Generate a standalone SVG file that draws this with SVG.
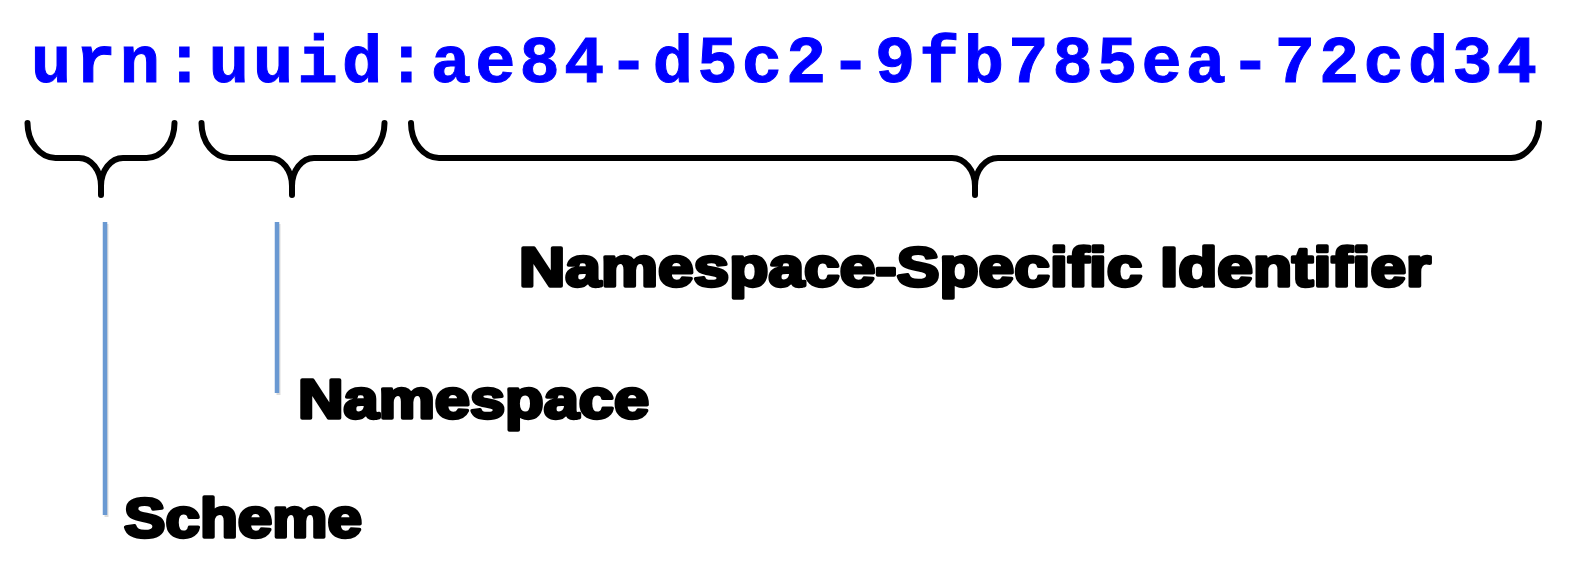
<svg xmlns="http://www.w3.org/2000/svg" width="1596" height="578" viewBox="0 0 1596 578">
  <style>
    .uri { font-family: "Liberation Mono", "Courier New", monospace; font-weight: bold; font-size: 67px; fill: #0000ff; stroke: #0000ff; stroke-width: 1px; }
    .label { font-family: "Liberation Sans", Arial, sans-serif; font-weight: bold; font-size: 55px; fill: #000; stroke: #000; stroke-width: 3.4px; stroke-linejoin: round; }
    .brace { fill: none; stroke: #000; stroke-width: 6; stroke-linecap: round; stroke-linejoin: round; }
    .leader { stroke: #6a99d2; stroke-width: 4.5; stroke-linecap: butt; }
    .shadow { stroke: #9a9a9a; stroke-opacity: 0.35; stroke-width: 4; }
  </style>
  <rect width="1596" height="578" fill="#fff"/>

  <g id="uri">
    <text class="uri" x="31" y="82" textLength="1506" lengthAdjust="spacing">urn:uuid:ae84-d5c2-9fb785ea-72cd34</text>
  </g>

  <g id="connectors">
    <g id="braces">
      <path class="brace" d="M27.5,123 A28,35 0 0 0 55.5,158 H79 A22,28 0 0 1 101,186 V195 M101,186 A22,28 0 0 1 123,158 H146.5 A28,35 0 0 0 174.5,123"/>
      <path class="brace" d="M201.5,123 A28,35 0 0 0 229.5,158 H270 A22,28 0 0 1 292,186 V195 M292,186 A22,28 0 0 1 314,158 H356.5 A28,35 0 0 0 384.5,123"/>
      <path class="brace" d="M411,123 A28,35 0 0 0 439,158 H952 A23,28 0 0 1 975,186 V195 M975,186 A23,28 0 0 1 998,158 H1511 A28,35 0 0 0 1539,123"/>
    </g>
    <g id="leaders">
      <line class="shadow" x1="106.5" y1="224" x2="106.5" y2="517"/>
      <line class="shadow" x1="278.5" y1="224" x2="278.5" y2="395"/>
      <line class="leader" x1="105" y1="222" x2="105" y2="515"/>
      <line class="leader" x1="277" y1="222" x2="277" y2="393"/>
    </g>
  </g>

  <g id="nsi">
    <text class="label" x="519" y="286" textLength="912" lengthAdjust="spacingAndGlyphs">Namespace-Specific Identifier</text>
  </g>
  <g id="namespace">
    <text class="label" x="298" y="418" textLength="351" lengthAdjust="spacingAndGlyphs">Namespace</text>
  </g>
  <g id="scheme">
    <text class="label" x="124" y="537" textLength="238" lengthAdjust="spacingAndGlyphs">Scheme</text>
  </g>
</svg>
